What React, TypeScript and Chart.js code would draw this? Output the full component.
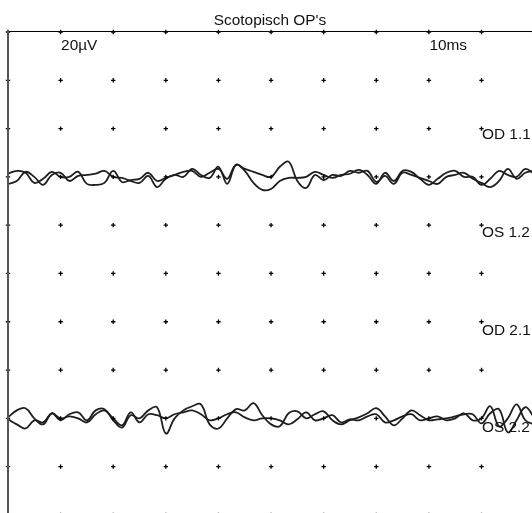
import { useEffect, useRef } from "react";
import { Chart, registerables } from "chart.js";

Chart.register(...registerables);

const TITLE = "Scotopisch OP's";
// time axis (ms) and amplitude axis (µV): 10 ms and 20 µV per division
const X_MAX = 99.6;
const Y_MIN = -199.2;
const X_TICKS = [0, 10, 20, 30, 40, 50, 60, 70, 80, 90, 100];
const Y_TICKS = [0, -20, -40, -60, -80, -100, -120, -140, -160, -180, -200];

// sample times (ms)
const SAMPLE_MS = Array.from({ length: 61 }, (_, i) => (i * 100) / 60);

// channel baselines (µV)
const BASE_1 = -60;
const BASE_2 = -160;

// deviations from baseline (µV)
const OD_11 = [
  1.3, 2.5, 1.7, -2.5, -0.8, 2.1, 0, 0, 2.1, -2.9, -3.3, -2.5, 2.5, -2.1, -1.3, -0.8,
  1.7, -1.7, -0.4, 0.8, 2.1, 2.5, 0, 1.7, 3.3, -0.8, 5, 2.5, -2.5, -5.4, -5, -1.7,
  -0.4, -0.4, 0, 2.1, 0.8, -0.4, 0.8, 1.3, 2.9, 0.8, -2.9, 1.7, -1.7, 2.5, 2.1, -0.8,
  -3.3, -0.8, 1.7, 2.5, 0, 0, -3.3, -0.8, 2.5, 0.8, 0, 3.3, 1.3,
];
const OS_12 = [
  -2.9, -1.7, 2.1, 0, -3.3, 0.8, 1.7, -1.7, 0.4, 0.8, 1.3, 2.5, 0, -0.4, -1.7, -2.5,
  0.4, -4.2, -0.8, 0.8, 0, 3.3, 0.8, -0.4, 4.2, -2.9, 5, 3.3, 2.1, 0.8, 0, 4.2,
  6.3, -1.7, -4.6, 0.8, -1.3, 0.8, 0.4, 2.5, 1.7, 2.5, -2.1, 0.4, -2.9, 1.7, 0.8, -0.4,
  -1.7, -2.9, 0, 0.8, 1.7, -0.8, -2.5, -4.2, -1.7, 3.3, -0.8, 1.7, 2.5,
];
const OD_21 = [
  0.4, 3.3, 4.2, 0, -2.5, 2.1, -0.8, 1.7, 2.5, -0.8, 3.3, 3.8, -0.8, -3.8, 1.3, 0,
  3.3, 4.6, -6.3, 0, 3.3, 5, 5.8, -2.5, -4.2, 0, 3.8, 3.3, 6.3, 1.3, -2.5, -3.3,
  2.1, 2.9, 0, 1.7, 2.9, -0.8, -2.5, -0.8, 0.4, 2.1, 4.2, 0.8, -2.9, 0, 3.3, 1.3,
  -0.8, -0.4, 0, 0.8, 1.7, 1.7, -2.1, 2.1, 3.8, -5.8, -0.8, 4.6, 0.4,
];
const OS_22 = [
  -0.4, -2.5, -4.2, -0.8, -1.7, 2.1, 0, 0.8, 0, -1.7, 1.7, 3.3, 0, -2.9, 2.5, -1.7,
  1.7, 1.3, 0, 1.7, 2.5, 3.3, 1.7, -0.8, 0, 1.7, 2.5, 0.4, -0.8, 0, 0, -0.8,
  -2.5, -0.4, 2.5, -0.8, 0, 1.3, -1.7, -0.4, -0.8, 0.8, 1.7, -1.7, -0.8, 0.8, 1.7, -0.8,
  0, 0.8, -0.8, 0, 2.1, -0.8, 0, 5, -3.3, 0, 5.8, -0.8, -2.5,
];

const LABEL_TEXT = ["20µV", "10ms", "OD 1.1", "OS 1.2", "OD 2.1", "OS 2.2"];
const LABEL_X = [10, 80, 90, 90, 90, 90];
const LABEL_Y = [-7.5, -7.5, -44.5, -84.8, -125.5, -165.5];

const FONT = '14px "Liberation Sans", Arial, sans-serif';
const STRETCH = 1.1;

const overlay = {
  id: "overlay",
  afterDatasetsDraw(chart: any) {
    const { ctx, chartArea, scales } = chart;
    const xs = scales.x;
    const ys = scales.y;
    ctx.save();
    // frame
    ctx.strokeStyle = "#000";
    ctx.lineWidth = 1;
    ctx.beginPath();
    ctx.moveTo(chartArea.left - 1, chartArea.top - 0.5);
    ctx.lineTo(chartArea.right, chartArea.top - 0.5);
    ctx.stroke();
    ctx.strokeStyle = "#555";
    ctx.lineWidth = 2;
    ctx.beginPath();
    ctx.moveTo(chartArea.left, chartArea.top - 1);
    ctx.lineTo(chartArea.left, chartArea.bottom);
    ctx.stroke();

    ctx.font = FONT;
    ctx.fillStyle = "#111";
    ctx.textBaseline = "alphabetic";
    const draw = (t: string, px: number, py: number, align: CanvasTextAlign) => {
      ctx.save();
      ctx.translate(px, py);
      ctx.scale(STRETCH, 1);
      ctx.textAlign = align;
      ctx.fillText(t, 0, 0);
      ctx.restore();
    };
    draw(TITLE, (chartArea.left + chartArea.right) / 2, 24.5, "center");
    LABEL_TEXT.forEach((t, i) => {
      draw(t, xs.getPixelForValue(LABEL_X[i]) + 0.5, ys.getPixelForValue(LABEL_Y[i]), "left");
    });
    ctx.restore();
  },
};

function series(dev: number[], base: number) {
  return dev.map((v, i) => ({ x: SAMPLE_MS[i], y: base + v }));
}

export default function App() {
  const ref = useRef<HTMLCanvasElement | null>(null);
  useEffect(() => {
    if (!ref.current) return;
    const grid = X_TICKS.flatMap((x) => Y_TICKS.map((y) => ({ x, y })));
    const lineStyle = {
      showLine: true,
      pointRadius: 0,
      borderColor: "#1e1e1e",
      borderWidth: 1.8,
      tension: 0.4,
      fill: false,
    };
    const chart = new Chart(ref.current, {
      type: "scatter",
      data: {
        datasets: [
          {
            data: grid,
            pointStyle: "cross",
            pointRadius: 2.2,
            borderWidth: 1.3,
            borderColor: "#000",
            backgroundColor: "#000",
            showLine: false,
            clip: false,
          } as any,
          { label: "OD 1.1", data: series(OD_11, BASE_1), ...lineStyle },
          { label: "OS 1.2", data: series(OS_12, BASE_1), ...lineStyle },
          { label: "OD 2.1", data: series(OD_21, BASE_2), ...lineStyle },
          { label: "OS 2.2", data: series(OS_22, BASE_2), ...lineStyle },
        ],
      },
      options: {
        animation: false,
        responsive: false,
        maintainAspectRatio: false,
        events: [],
        layout: { autoPadding: false, padding: { left: 8, top: 32, right: 0, bottom: 0 } },
        plugins: {
          legend: { display: false },
          title: { display: false },
          tooltip: { enabled: false },
        },
        scales: {
          x: { type: "linear", min: 0, max: X_MAX, display: false },
          y: { type: "linear", min: Y_MIN, max: 0, display: false },
        },
      },
      plugins: [overlay],
    });
    return () => chart.destroy();
  }, []);
  return (
    <div style={{ position: "absolute", left: 0, top: 0, width: 532, height: 513, background: "#fff" }}>
      <canvas ref={ref} width={532} height={513} style={{ display: "block" }} />
    </div>
  );
}
